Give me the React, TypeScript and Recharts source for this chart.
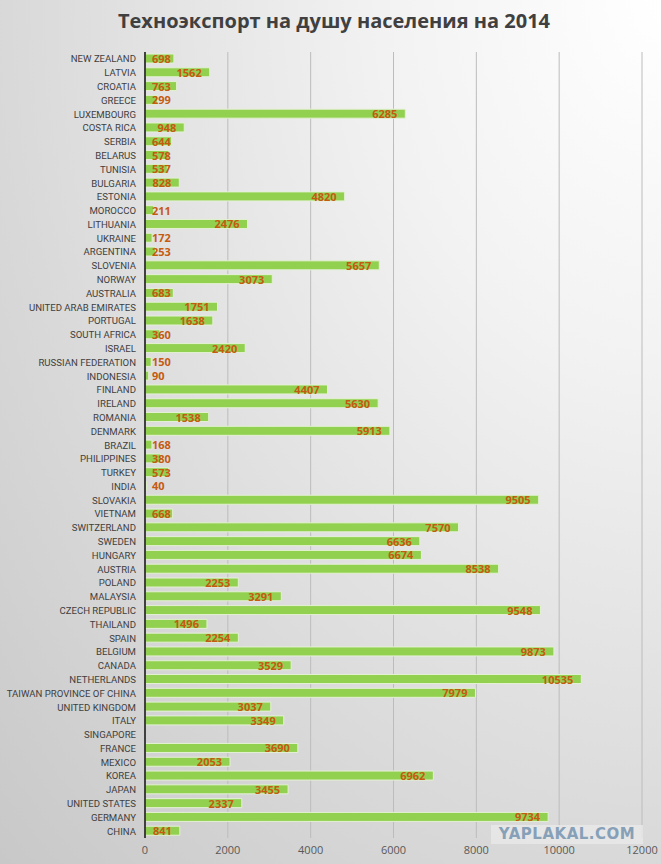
import { BarChart, Bar, XAxis, YAxis, CartesianGrid, LabelList } from 'recharts';

const countries = [
  'NEW ZEALAND', 'LATVIA', 'CROATIA', 'GREECE', 'LUXEMBOURG', 'COSTA RICA', 'SERBIA', 'BELARUS',
  'TUNISIA', 'BULGARIA', 'ESTONIA', 'MOROCCO', 'LITHUANIA', 'UKRAINE', 'ARGENTINA', 'SLOVENIA',
  'NORWAY', 'AUSTRALIA', 'UNITED ARAB EMIRATES', 'PORTUGAL', 'SOUTH AFRICA', 'ISRAEL',
  'RUSSIAN FEDERATION', 'INDONESIA', 'FINLAND', 'IRELAND', 'ROMANIA', 'DENMARK', 'BRAZIL',
  'PHILIPPINES', 'TURKEY', 'INDIA', 'SLOVAKIA', 'VIETNAM', 'SWITZERLAND', 'SWEDEN', 'HUNGARY',
  'AUSTRIA', 'POLAND', 'MALAYSIA', 'CZECH REPUBLIC', 'THAILAND', 'SPAIN', 'BELGIUM', 'CANADA',
  'NETHERLANDS', 'TAIWAN PROVINCE OF CHINA', 'UNITED KINGDOM', 'ITALY', 'SINGAPORE', 'FRANCE',
  'MEXICO', 'KOREA', 'JAPAN', 'UNITED STATES', 'GERMANY', 'CHINA',
];

const exportPerCapita: (number | null)[] = [
  698, 1562, 763, 299, 6285, 948, 644, 578,
  537, 828, 4820, 211, 2476, 172, 253, 5657,
  3073, 683, 1751, 1638, 360, 2420,
  150, 90, 4407, 5630, 1538, 5913, 168,
  380, 573, 40, 9505, 668, 7570, 6636, 6674,
  8538, 2253, 3291, 9548, 1496, 2254, 9873, 3529,
  10535, 7979, 3037, 3349, null, 3690,
  2053, 6962, 3455, 2337, 9734, 841,
];

const xTicks = [0, 2000, 4000, 6000, 8000, 10000, 12000];

const data = countries.map((name, i) => ({ name, value: exportPerCapita[i] }));

// Excel-style "inside end" label: pushed right when the bar is too short
const ValueLabel = (props: any) => {
  const { x, y, width, height, value } = props;
  if (value == null) return null;
  const text = String(value);
  const textW = text.length * 6.3;
  const endX = Math.max(x + width - 8, x + 7 + textW);
  return (
    <text
      x={endX}
      y={y + height / 2}
      textAnchor="end"
      dominantBaseline="central"
      fill="#c55a11"
      fontSize={11}
      fontWeight="bold"
      fontFamily="'Open Sans', sans-serif"
    >
      {text}
    </text>
  );
};

// single-line category label, no wrapping
const CountryTick = (props: any) => {
  const { x, y, payload } = props;
  return (
    <text
      x={x - 1}
      y={y}
      textAnchor="end"
      dominantBaseline="central"
      fill="#404040"
      fontSize={9.6}
      fontFamily="Roboto, sans-serif"
    >
      {payload.value}
    </text>
  );
};

export default function App() {
  return (
    <div
      style={{
        position: 'absolute',
        left: 0,
        top: 0,
        width: 661,
        height: 864,
        background: 'radial-gradient(ellipse at 100% 0%, #ffffff 0%, #f2f2f2 30%, #d9d9d9 70%, #c8c8c8 100%)',
        fontFamily: "'Open Sans', sans-serif",
        overflow: 'hidden',
      }}
    >
      <div
        style={{
          position: 'absolute',
          top: 7,
          left: 0,
          width: 668,
          textAlign: 'center',
          fontSize: 20,
          fontWeight: 'bold',
          color: '#404040',
        }}
      >
        Техноэкспорт на душу населения на 2014
      </div>
      <BarChart
        width={661}
        height={864}
        data={data}
        layout="vertical"
        margin={{ top: 52, right: 19, bottom: 6, left: 0 }}
        barSize={9}
      >
        <CartesianGrid horizontal={false} stroke="#bcbcbc" />
        <XAxis
          type="number"
          domain={[0, 12000]}
          ticks={xTicks}
          axisLine={false}
          tickLine={false}
          height={20}
          tick={{ fill: '#595959', fontSize: 11 }}
          interval={0}
        />
        <YAxis
          type="category"
          dataKey="name"
          width={145}
          interval={0}
          tickLine={false}
          tickMargin={2}
          axisLine={{ stroke: '#404040', strokeWidth: 2 }}
          tick={CountryTick}
        />
        <Bar dataKey="value" fill="#92d050" stroke="#e4f1d4" strokeWidth={1} isAnimationActive={false}>
          <LabelList dataKey="value" content={ValueLabel} />
        </Bar>
      </BarChart>
      <div
        style={{
          position: 'absolute',
          left: 491,
          top: 825,
          width: 152,
          height: 19,
          background: 'rgba(232,232,232,0.85)',
          color: '#86a0b8',
          fontFamily: "'DejaVu Sans', sans-serif",
          fontWeight: 'bold',
          fontSize: 15,
          lineHeight: '19px',
          textAlign: 'center',
          letterSpacing: 0.5,
        }}
      >
        YAPLAKAL.COM
      </div>
    </div>
  );
}
